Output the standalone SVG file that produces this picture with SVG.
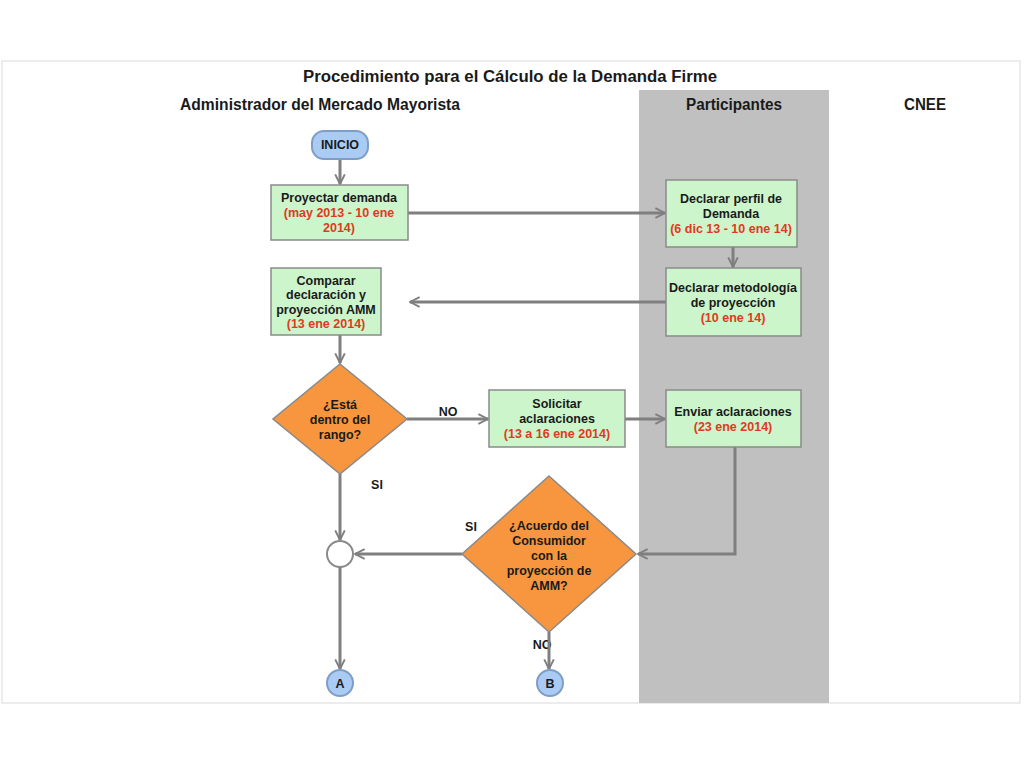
<svg xmlns="http://www.w3.org/2000/svg" width="1024" height="768" viewBox="0 0 1024 768">
<defs>
<style>
.t{font-family:"Liberation Sans",Arial,sans-serif;font-weight:bold;font-size:12.5px;fill:#1a1a1a;text-anchor:middle}
.r{fill:#e03a1e}
.h{font-family:"Liberation Sans",Arial,sans-serif;font-weight:bold;font-size:16px;fill:#1a1a1a;text-anchor:middle}
.box{fill:#ccf5cc;stroke:#8a8a8a;stroke-width:1.5}
.dia{fill:#f7963e;stroke:#8a8a8a;stroke-width:1.5}
.term{fill:#a9cbf4;stroke:#7f9ec6;stroke-width:2}
.ln{fill:none;stroke:#7f7f7f;stroke-width:3}
</style>
<marker id="ah" viewBox="0 0 10 10" refX="9" refY="5" markerWidth="4" markerHeight="4" orient="auto" markerUnits="strokeWidth">
<path d="M1,1 L9,5 L1,9" fill="none" stroke="#7f7f7f" stroke-width="1.6"/>
</marker>
</defs>
<rect x="0" y="0" width="1024" height="768" fill="#ffffff"/>
<rect x="2" y="61" width="1018" height="642" fill="none" stroke="#e6e6e6" stroke-width="1.5"/>
<rect x="639" y="90" width="190" height="613" fill="#c0c0c0"/>
<text class="h" x="510" y="82" textLength="414" lengthAdjust="spacingAndGlyphs">Procedimiento para el Cálculo de la Demanda Firme</text>
<text class="h" x="320" y="110" textLength="280" lengthAdjust="spacingAndGlyphs">Administrador del Mercado Mayorista</text>
<text class="h" x="734" y="110" textLength="96" lengthAdjust="spacingAndGlyphs">Participantes</text>
<text class="h" x="925" y="110" textLength="42" lengthAdjust="spacingAndGlyphs">CNEE</text>

<g id="connectors">
<line class="ln" x1="340" y1="159" x2="340" y2="184" marker-end="url(#ah)"/>
<line class="ln" x1="408" y1="213" x2="665" y2="213" marker-end="url(#ah)"/>
<line class="ln" x1="733" y1="247" x2="733" y2="267" marker-end="url(#ah)"/>
<line class="ln" x1="666" y1="302" x2="410" y2="302" marker-end="url(#ah)"/>
<line class="ln" x1="340" y1="335" x2="340" y2="363" marker-end="url(#ah)"/>
<line class="ln" x1="407" y1="419" x2="488" y2="419" marker-end="url(#ah)"/>
<line class="ln" x1="625" y1="419" x2="665" y2="419" marker-end="url(#ah)"/>
<polyline class="ln" points="735,447 735,554 638,554" marker-end="url(#ah)"/>
<line class="ln" x1="340" y1="474" x2="340" y2="540" marker-end="url(#ah)"/>
<line class="ln" x1="462" y1="554" x2="355" y2="554" marker-end="url(#ah)"/>
<line class="ln" x1="340" y1="567" x2="340" y2="669" marker-end="url(#ah)"/>
<text class="t" x="448" y="416">NO</text>
<text class="t" x="377" y="489">SI</text>
<text class="t" x="471" y="531">SI</text>
<text class="t" x="542" y="649">NO</text>
<line class="ln" x1="549" y1="632" x2="549" y2="669" marker-end="url(#ah)"/>
</g>

<g id="inicio">
<rect class="term" x="312" y="131" width="56" height="28" rx="12"/>
<text class="t" x="340" y="149">INICIO</text>
</g>
<g id="proyectar">
<rect class="box" x="271" y="185" width="137" height="55"/>
<text class="t" x="339" y="202">Proyectar demanda</text>
<text class="t r" x="339" y="217">(may 2013 - 10 ene</text>
<text class="t r" x="339" y="232">2014)</text>
</g>
<g id="perfil">
<rect class="box" x="666" y="180" width="131" height="67"/>
<text class="t" x="731" y="203">Declarar perfil de</text>
<text class="t" x="731" y="218">Demanda</text>
<text class="t r" x="731" y="233">(6 dic 13 - 10 ene 14)</text>
</g>
<g id="metodologia">
<rect class="box" x="666" y="268" width="135" height="68"/>
<text class="t" x="733" y="292">Declarar metodología</text>
<text class="t" x="733" y="307">de proyección</text>
<text class="t r" x="733" y="322">(10 ene 14)</text>
</g>
<g id="comparar">
<rect class="box" x="271" y="268" width="110" height="67"/>
<text class="t" x="326" y="285">Comparar</text>
<text class="t" x="326" y="299">declaración y</text>
<text class="t" x="326" y="314">proyección AMM</text>
<text class="t r" x="326" y="328">(13 ene 2014)</text>
</g>
<g id="rango">
<polygon class="dia" points="340,364 407,419 340,474 273,419"/>
<text class="t" x="340" y="409">¿Está</text>
<text class="t" x="340" y="424">dentro del</text>
<text class="t" x="340" y="439">rango?</text>
</g>
<g id="solicitar">
<rect class="box" x="489" y="390" width="136" height="57"/>
<text class="t" x="557" y="408">Solicitar</text>
<text class="t" x="557" y="423">aclaraciones</text>
<text class="t r" x="557" y="438">(13 a 16 ene 2014)</text>
</g>
<g id="enviar">
<rect class="box" x="666" y="390" width="135" height="57"/>
<text class="t" x="733" y="416">Enviar aclaraciones</text>
<text class="t r" x="733" y="431">(23 ene 2014)</text>
</g>
<g id="acuerdo">
<polygon class="dia" points="549,476 636,554 549,632 462,554"/>
<text class="t" x="549" y="530">¿Acuerdo del</text>
<text class="t" x="549" y="545">Consumidor</text>
<text class="t" x="549" y="560">con la</text>
<text class="t" x="549" y="575">proyección de</text>
<text class="t" x="549" y="590">AMM?</text>
</g>
<g id="union">
<circle cx="340" cy="554" r="13" fill="#ffffff" stroke="#8a8a8a" stroke-width="2"/>
</g>
<g id="A">
<circle class="term" cx="340" cy="683" r="13"/>
<text class="t" x="340" y="688">A</text>
</g>
<g id="B">
<circle class="term" cx="550" cy="683" r="13"/>
<text class="t" x="550" y="688">B</text>
</g>
</svg>
